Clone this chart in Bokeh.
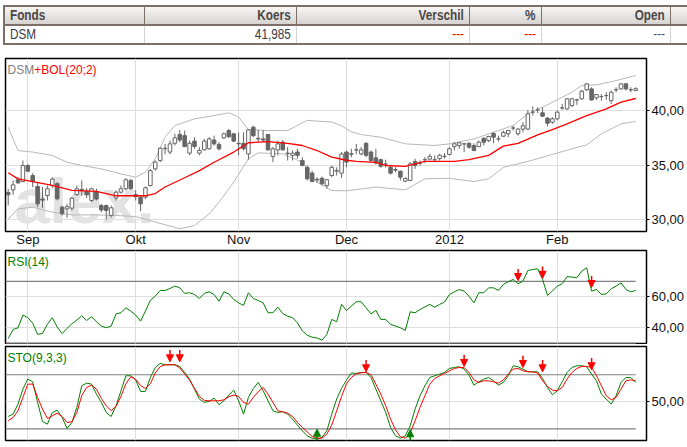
from bokeh.plotting import figure
from bokeh.models import ColumnDataSource, FixedTicker, Range1d, Label, Arrow, NormalHead, Div
from bokeh.layouts import column
from bokeh.embed import file_html
from bokeh.resources import INLINE

# ---------------- data ----------------
table_headers = ["Fonds", "Koers", "Verschil", "%", "Open", ""]
table_row = ["DSM", "41,985", "---", "---", "---", ""]

month_ticks = [4, 26, 47, 69, 90, 112]
month_labels = ["Sep", "Okt", "Nov", "Dec", "2012", "Feb"]

price_ticks = [30, 35, 40]
price_labels = ["30,00", "35,00", "40,00"]
rsi_ticks = [40, 60]
rsi_labels = ["40,00", "60,00"]
rsi_levels = [30, 70]
sto_ticks = [50]
sto_labels = ["50,00"]
sto_levels = [20, 80]

opens = [32.5, 32.74, 33.66, 33.5, 34.97, 34.05, 33.05, 31.9, 32.23, 33.14,
         33.3, 31.16, 31.0, 31.07, 32.3, 32.78, 32.6, 31.77, 32.6, 31.3,
         31.3, 30.4, 32.0, 32.53, 32.84, 33.6, 32.3, 32.07, 32.07, 33.14,
         34.66, 35.43, 36.5, 36.2, 37.0, 37.8, 37.7, 36.1, 37.2, 36.1,
         36.4, 36.5, 37.3, 36.9, 37.5, 38.17, 37.87, 37.0, 37.0, 36.03,
         38.47, 37.45, 37.4, 37.8, 35.8, 36.4, 37.1, 36.1, 35.9, 36.2,
         35.43, 34.8, 34.27, 33.7, 33.8, 33.14, 34.05, 34.45, 34.27, 36.2,
         36.05, 36.4, 36.03, 37.0, 36.2, 35.67, 35.5, 35.1, 34.8, 34.6,
         34.45, 33.54, 33.6, 35.34, 35.2, 35.5, 35.55, 35.5, 35.6, 35.8,
         35.98, 36.7, 36.8, 36.95, 37.0, 36.8, 36.7, 37.45, 37.26, 37.9,
         37.4, 37.65, 37.87, 38.4, 37.87, 38.3, 38.3, 39.85, 40.06, 39.79,
         39.3, 38.93, 39.24, 40.24, 40.15, 40.46, 40.97, 41.07, 41.9, 41.98,
         41.16, 41.28, 41.37, 40.9, 41.9, 41.98, 42.44, 41.9, 41.83]
highs = [32.84, 33.6, 33.9, 35.43, 35.1, 34.27, 33.45, 33.0, 33.14, 33.9,
         33.45, 31.3, 31.46, 32.07, 33.14, 33.6, 32.9, 32.93, 32.84, 31.46,
         31.4, 31.3, 32.7, 33.14, 33.8, 33.75, 32.7, 32.23, 33.05, 34.66,
         35.43, 36.65, 36.95, 37.25, 37.87, 38.23, 38.17, 37.25, 37.56, 36.65,
         37.4, 37.56, 37.7, 37.1, 38.0, 38.3, 37.9, 38.0, 38.0, 38.3,
         38.6, 38.23, 38.2, 37.87, 36.65, 37.25, 37.3, 36.65, 36.34, 36.5,
         35.73, 34.97, 34.5, 33.9, 33.96, 33.75, 34.97, 34.8, 36.2, 36.34,
         36.5, 36.95, 36.65, 37.1, 36.34, 36.5, 35.6, 35.5, 34.97, 34.8,
         34.5, 33.9, 35.28, 35.58, 35.43, 35.73, 36.03, 35.9, 36.03, 36.1,
         36.65, 37.1, 37.1, 37.0, 37.1, 37.0, 37.25, 37.56, 37.7, 38.0,
         37.7, 38.17, 38.23, 38.6, 38.4, 38.93, 40.06, 40.37, 40.3, 40.3,
         39.4, 39.4, 40.0, 40.6, 41.16, 41.16, 41.07, 41.9, 42.5, 42.13,
         41.5, 41.5, 41.67, 41.83, 42.13, 42.5, 42.5, 42.13, 42.13]
lows = [31.31, 32.29, 33.3, 33.45, 34.36, 32.99, 31.16, 31.1, 31.77, 32.9,
        31.77, 30.4, 30.2, 30.85, 32.2, 32.2, 32.0, 31.6, 31.77, 30.7,
        30.0, 30.2, 31.77, 32.4, 32.7, 32.74, 31.77, 30.8, 31.92, 33.05,
        34.5, 35.28, 36.0, 36.0, 36.8, 37.1, 36.65, 35.9, 36.5, 35.9,
        36.34, 36.4, 36.8, 36.34, 37.4, 37.5, 37.1, 35.9, 36.34, 35.5,
        37.56, 37.1, 37.1, 36.34, 35.28, 35.9, 36.34, 35.43, 35.43, 35.6,
        34.9, 33.6, 33.45, 33.36, 33.14, 32.84, 33.9, 34.05, 33.84, 34.8,
        35.73, 36.0, 35.9, 35.73, 35.28, 35.06, 34.76, 34.8, 34.15, 34.36,
        33.6, 33.45, 33.54, 34.66, 34.97, 35.2, 35.43, 35.28, 35.43, 35.6,
        35.9, 36.34, 36.5, 36.2, 36.5, 36.28, 36.65, 36.8, 37.1, 37.0,
        37.16, 37.56, 37.56, 38.17, 37.7, 38.0, 38.2, 39.54, 39.76, 39.4,
        38.54, 38.78, 39.1, 40.06, 40.06, 40.3, 40.52, 40.97, 41.77, 40.9,
        40.97, 40.9, 40.97, 40.6, 41.67, 41.9, 41.83, 41.67, 41.77]
closes = [32.29, 33.2, 33.38, 34.97, 34.45, 33.5, 31.46, 31.8, 32.84, 33.72,
          31.92, 30.55, 31.2, 31.98, 32.84, 32.7, 32.3, 32.84, 31.9, 30.9,
          30.85, 31.1, 32.53, 32.84, 33.66, 32.84, 32.1, 31.46, 32.93, 34.5,
          35.28, 36.55, 36.55, 36.95, 37.5, 37.3, 36.7, 37.0, 36.7, 36.35,
          37.2, 37.4, 36.95, 36.5, 37.87, 37.6, 37.2, 36.95, 36.5, 38.23,
          37.7, 37.4, 37.3, 36.4, 36.5, 36.95, 36.4, 36.05, 36.1, 35.9,
          34.97, 33.75, 33.5, 33.65, 33.3, 33.66, 34.8, 34.5, 36.03, 35.28,
          36.0, 36.4, 36.4, 35.9, 35.43, 35.2, 34.9, 35.1, 34.27, 34.55,
          33.9, 33.78, 35.12, 34.97, 35.2, 35.5, 35.8, 35.5, 35.9, 35.8,
          36.5, 36.95, 37.05, 36.95, 36.65, 36.34, 37.1, 37.1, 37.62, 37.56,
          37.4, 38.0, 38.17, 38.4, 38.3, 38.6, 39.7, 39.85, 40.06, 39.48,
          38.84, 39.24, 39.85, 40.24, 41.07, 41.07, 40.97, 41.77, 42.44, 40.97,
          41.46, 41.28, 41.37, 41.67, 41.9, 42.44, 41.98, 41.9, 42.0]

bol_mid_x = [0, 2, 5, 9, 13, 18, 22, 28, 30, 32, 36, 39, 42, 46, 49, 53, 57, 60, 63,
             66, 69, 71, 75, 77, 81, 85, 91, 94, 98, 101, 104, 108, 111, 114, 118,
             122, 125, 128]
bol_mid_y = [34.3, 33.75, 33.5, 33.15, 32.7, 32.6, 32.2, 32.2, 32.4, 33.0, 33.85,
             34.5, 35.27, 36.2, 37.05, 37.16, 37.0, 36.8, 36.34, 35.73, 35.45, 35.34,
             35.25, 34.97, 34.88, 35.34, 35.34, 35.5, 35.9, 36.74, 37.0, 37.77, 38.25,
             38.78, 39.54, 40.15, 40.76, 41.1]
bol_up_x = [0, 1, 2, 5, 9, 12, 15, 19, 23, 26, 28, 30, 32, 34, 38, 42, 45, 47, 49,
            53, 57, 61, 64, 66, 68, 70, 72, 76, 81, 87, 90, 95, 100, 103, 106, 109,
            111, 115, 117, 120, 124, 128]
bol_up_y = [38.47, 37.4, 36.34, 36.2, 35.88, 35.27, 34.97, 34.66, 34.2, 33.9, 34.36,
            35.58, 37.56, 38.63, 39.24, 39.54, 39.79, 39.4, 38.26, 38.17, 38.17, 39.1,
            39.0, 38.95, 38.6, 38.05, 37.8, 37.56, 36.95, 36.8, 36.95, 37.4, 38.17,
            38.63, 39.7, 40.3, 40.76, 41.68, 42.29, 42.35, 42.74, 43.2]
bol_lo_x = [0, 2, 5, 9, 13, 18, 22, 26, 30, 35, 38, 41, 43, 46, 49, 51, 56, 60, 63,
            66, 69, 75, 81, 85, 90, 95, 98, 101, 106, 111, 115, 118, 121, 125, 128]
bol_lo_y = [30.09, 31.0, 31.16, 30.7, 30.45, 30.45, 30.4, 30.3, 29.79, 29.18, 29.48,
            30.55, 31.6, 33.45, 35.58, 36.13, 36.03, 35.27, 33.45, 32.68, 32.65, 33.0,
            32.74, 33.75, 33.8, 33.5, 33.75, 34.8, 35.34, 35.98, 36.5, 36.86, 37.87,
            38.78, 39.0]

rsi = [33.0, 38.9, 40.0, 48.2, 46.6, 43.0, 35.7, 36.4, 42.3, 46.5,
       40.4, 36.2, 39.6, 42.6, 45.0, 47.7, 44.7, 47.1, 43.9, 41.1,
       40.0, 41.1, 49.0, 49.7, 52.9, 50.8, 48.2, 44.3, 50.8, 57.8,
       60.4, 64.1, 64.1, 65.4, 66.9, 65.8, 62.2, 62.6, 61.5, 58.9,
       62.2, 63.2, 61.5, 57.2, 63.2, 61.9, 58.3, 56.1, 54.4, 62.6,
       58.9, 57.6, 56.1, 49.7, 49.7, 53.3, 49.2, 47.5, 46.5, 43.2,
       38.0, 35.2, 33.9, 33.4, 32.0, 35.7, 45.4, 43.9, 55.1, 51.2,
       54.0, 56.8, 56.8, 52.9, 49.0, 51.2, 45.4, 45.4, 42.2, 41.1,
       40.0, 38.3, 50.3, 49.7, 51.8, 53.5, 55.1, 53.3, 55.1, 56.6,
       61.5, 63.2, 64.7, 63.7, 60.4, 56.1, 62.6, 62.6, 65.8, 65.8,
       64.1, 68.0, 69.7, 71.2, 68.4, 70.1, 77.0, 77.6, 78.1, 71.2,
       60.9, 63.7, 66.9, 68.4, 73.1, 72.7, 72.3, 76.6, 78.7, 63.7,
       64.7, 61.5, 61.9, 65.2, 66.9, 69.0, 64.7, 63.2, 64.1]
rsi_sig_x = [104, 109, 119]
rsi_sig_y = [70.5, 72.0, 66.0]

sto_k = [33.7, 36.3, 47.4, 64.1, 75.2, 72.2, 49.3, 28.1, 25.2, 38.1,
         40.7, 32.6, 20.4, 27.0, 43.7, 67.8, 70.7, 69.6, 58.5, 49.3,
         38.1, 33.7, 45.6, 62.2, 78.9, 78.9, 74.4, 61.5, 61.5, 77.0,
         88.1, 92.6, 91.1, 91.1, 91.1, 89.3, 82.6, 75.2, 64.1, 53.0,
         49.3, 50.4, 54.1, 46.7, 51.1, 57.4, 63.0, 51.1, 36.3, 54.8,
         64.8, 71.5, 62.2, 51.1, 40.0, 38.1, 38.9, 36.3, 30.7, 24.1,
         17.8, 12.2, 9.6, 8.5, 10.4, 17.8, 36.3, 53.0, 65.0, 74.0,
         82.0, 81.5, 82.6, 82.6, 77.0, 64.1, 51.1, 38.1, 21.5, 12.2,
         9.6, 12.2, 23.3, 41.9, 56.7, 67.8, 77.0, 78.9, 80.7, 82.6,
         87.0, 88.1, 88.9, 86.3, 79.6, 68.5, 72.2, 75.2, 77.0, 73.3,
         68.5, 71.5, 78.9, 90.0, 88.9, 86.3, 83.3, 83.3, 83.3, 75.9,
         65.9, 57.8, 62.2, 72.2, 82.6, 88.1, 90.0, 90.0, 88.9, 80.7,
         73.3, 58.5, 53.0, 47.4, 56.7, 71.5, 77.0, 77.0, 71.5]
sto_d = [28.9, 32.6, 40.0, 54.8, 69.6, 69.6, 54.8, 41.9, 31.5, 34.4,
         37.4, 33.7, 27.0, 27.8, 38.1, 56.7, 65.9, 68.5, 64.1, 53.7,
         45.6, 40.0, 45.0, 56.0, 70.0, 77.8, 75.0, 68.0, 64.8, 70.0,
         82.0, 89.0, 91.1, 91.1, 91.1, 87.5, 81.0, 74.0, 65.0, 56.0,
         51.5, 51.1, 51.1, 51.1, 52.2, 55.6, 57.4, 55.9, 49.3, 47.4,
         54.8, 61.1, 65.9, 58.5, 49.3, 40.0, 38.9, 37.4, 33.7, 27.0,
         21.5, 16.5, 11.5, 9.6, 9.6, 14.1, 24.0, 40.0, 56.0, 70.0,
         77.0, 81.0, 82.2, 82.6, 80.0, 69.6, 58.5, 45.6, 30.7, 18.9,
         11.1, 9.6, 15.9, 28.9, 43.7, 56.7, 69.6, 75.9, 78.9, 81.5,
         84.4, 87.0, 88.1, 88.1, 82.6, 74.4, 71.5, 73.3, 73.3, 72.2,
         70.7, 74.4, 80.7, 86.3, 87.0, 84.4, 83.3, 83.3, 81.9, 73.3,
         67.0, 63.0, 62.2, 65.9, 75.2, 82.6, 87.0, 89.3, 89.3, 88.1,
         78.9, 67.8, 56.7, 52.2, 54.8, 64.1, 73.3, 74.4, 73.3]
sto_sell_x = [33, 35, 73, 93, 105, 109, 119]
sto_sell_y = [94.4, 94.4, 83.3, 89.3, 88.1, 83.3, 85.6]
sto_buy_x = [63, 82]
sto_buy_y = [19.6, 18.9]

# ---------------- styles ----------------
FONT = "Liberation Sans"
GRID = "#dedede"
CANDLE = "#666666"
GREEN = "#008000"
RED = "#ff0000"
X_RANGE = Range1d(-0.55, 130.2)
FRAME_W = 641

idx = list(range(len(closes)))


def base_fig(frame_h, y_start, y_end, top, bottom):
    p = figure(frame_width=FRAME_W, frame_height=frame_h, x_range=X_RANGE,
               y_range=Range1d(y_start, y_end),
               y_axis_location="right", toolbar_location=None, output_backend="svg",
               min_border_left=5, min_border_right=41, min_border_top=top,
               min_border_bottom=bottom, background_fill_color="white",
               border_fill_color="white")
    p.outline_line_color = "black"
    p.outline_line_width = 1.5
    p.xgrid.ticker = FixedTicker(ticks=month_ticks)
    p.xgrid.grid_line_color = GRID
    p.ygrid.grid_line_color = GRID
    for ax in p.yaxis:
        ax.axis_line_color = None
        ax.major_tick_in = 0
        ax.major_tick_out = 3
        ax.minor_tick_line_color = None
        ax.major_label_text_font = FONT
        ax.major_label_text_font_size = "13px"
        ax.major_label_text_color = "#111111"
        ax.major_label_standoff = 2
    p.margin = 0
    return p


def add_title(p, parts):
    off = 2
    for txt, col, w in parts:
        p.add_layout(Label(x=p.x_range.start, y=p.y_range.end, x_offset=off, y_offset=-4,
                           text=txt, text_color=col, text_font=FONT,
                           text_font_size="12px", text_baseline="top"))
        off += w


# ---------------- table ----------------
col_w = [140, 152, 173, 72, 129, 60]
brd = "#7d6f67"


def squeeze(t, origin):
    return (f'<span style="display:inline-block;transform:scaleX(0.84);'
            f'transform-origin:{origin};white-space:nowrap;">{t}</span>')


cells_h = ""
for i, (h, w) in enumerate(zip(table_headers, col_w)):
    align = "left" if i == 0 else "right"
    cells_h += (f'<th style="width:{w}px;text-align:{align};padding:0 5px;height:18px;'
                f'background:linear-gradient(#f7f6f5,#d6d3d0);color:#4b4543;font-weight:bold;'
                f'border-right:1px solid {brd};border-bottom:2px solid {brd};">'
                f'{squeeze(h, align)}</th>')
row_colors = ["#3b3848", "#3b3848", RED, RED, "#555555", "#555555"]
cells_d = ""
for i, (t, c) in enumerate(zip(table_row, row_colors)):
    align = "left" if i == 0 else "right"
    cells_d += (f'<td style="text-align:{align};padding:0 5px;height:17px;color:{c};'
                f'border-right:1px solid #d4d4d4;">{squeeze(t, align)}</td>')
cg = "".join(f'<col style="width:{w}px">' for w in col_w)
html = (f'<table style="border-collapse:collapse;table-layout:fixed;width:{sum(col_w)}px;'
        f"font-family:'Liberation Sans',Arial,sans-serif;"
        f'font-size:14px;border-top:2px solid {brd};border-bottom:2px solid {brd};'
        f'border-left:2px solid {brd};margin:0;line-height:17px;">'
        f'<colgroup>{cg}</colgroup><tr>{cells_h}</tr><tr>{cells_d}</tr></table>')
div = Div(text=html, width=684, height=42, margin=(5, 0, 0, 3), styles={"overflow": "hidden"})

# ---------------- main price chart ----------------
p1 = base_fig(173, 28.93, 44.76, 11, 17)
p1.ygrid.ticker = FixedTicker(ticks=price_ticks)
p1.yaxis.ticker = FixedTicker(ticks=price_ticks)
p1.yaxis.major_label_overrides = dict(zip(price_ticks, price_labels))
p1.xaxis.ticker = FixedTicker(ticks=month_ticks)
p1.xaxis.major_label_overrides = dict(zip(month_ticks, month_labels))
p1.xaxis.axis_line_color = None
p1.xaxis.major_tick_in = 0
p1.xaxis.major_tick_out = 0
p1.xaxis.minor_tick_line_color = None
p1.xaxis.major_label_text_font = FONT
p1.xaxis.major_label_text_font_size = "13px"
p1.xaxis.major_label_text_color = "#111111"
p1.xaxis.major_label_standoff = 0

p1.add_layout(Label(x=p1.x_range.start, y=p1.y_range.start, x_offset=9, y_offset=-4,
                    text="alex.", text_color="#e2e2e2", text_font=FONT,
                    text_font_style="bold", text_font_size="63px",
                    text_baseline="bottom", level="underlay"))

up = [c >= o for o, c in zip(opens, closes)]
csrc = ColumnDataSource(dict(
    x=idx, high=highs, low=lows,
    top=[max(o, c) for o, c in zip(opens, closes)],
    bottom=[min(o, c) for o, c in zip(opens, closes)],
    fill=["white" if u else CANDLE for u in up]))

p1.line(bol_up_x, bol_up_y, line_color="#b8b8b8", line_width=1)
p1.line(bol_lo_x, bol_lo_y, line_color="#b8b8b8", line_width=1)
p1.segment(x0="x", x1="x", y0="low", y1="high", source=csrc, line_color=CANDLE, line_width=1)
p1.vbar(x="x", width=0.72, top="top", bottom="bottom", source=csrc,
        fill_color="fill", line_color=CANDLE, line_width=1)
p1.line(bol_mid_x, bol_mid_y, line_color=RED, line_width=1.3)
add_title(p1, [("DSM", "#808080", 26.7), ("+BOL(20;2)", RED, 0)])

# ---------------- RSI ----------------
p2 = base_fig(94, 29.2, 89.9, 1, 0)
p2.xaxis.visible = False
p2.ygrid.ticker = FixedTicker(ticks=rsi_ticks)
p2.yaxis.ticker = FixedTicker(ticks=rsi_ticks)
p2.yaxis.major_label_overrides = dict(zip(rsi_ticks, rsi_labels))
p2.segment(x0=[X_RANGE.start] * len(rsi_levels), x1=[idx[-1]] * len(rsi_levels),
           y0=rsi_levels, y1=rsi_levels, line_color="#808080", line_width=1.2)
p2.line(idx, rsi, line_color=GREEN, line_width=1)
rsrc = ColumnDataSource(dict(x=rsi_sig_x, ye=rsi_sig_y, ys=[v + 7.5 for v in rsi_sig_y]))
p2.add_layout(Arrow(x_start="x", y_start="ys", x_end="x", y_end="ye", source=rsrc,
                    line_color=RED, line_width=1.5,
                    end=NormalHead(size=7, fill_color=RED, line_color=RED)))
add_title(p2, [("RSI(14)", GREEN, 0)])

# ---------------- Stochastic ----------------
p3 = base_fig(94, 7.0, 111.4, 2, 2)
p3.xaxis.visible = False
p3.ygrid.ticker = FixedTicker(ticks=sto_ticks)
p3.yaxis.ticker = FixedTicker(ticks=sto_ticks)
p3.yaxis.major_label_overrides = dict(zip(sto_ticks, sto_labels))
p3.segment(x0=[X_RANGE.start] * len(sto_levels), x1=[idx[-1]] * len(sto_levels),
           y0=sto_levels, y1=sto_levels, line_color="#808080", line_width=1.2)
p3.line(idx, sto_k, line_color=GREEN, line_width=1)
p3.line(idx, sto_d, line_color=RED, line_width=1)
ssrc = ColumnDataSource(dict(x=sto_sell_x, ye=sto_sell_y, ys=[v + 13 for v in sto_sell_y]))
p3.add_layout(Arrow(x_start="x", y_start="ys", x_end="x", y_end="ye", source=ssrc,
                    line_color=RED, line_width=1.5,
                    end=NormalHead(size=7, fill_color=RED, line_color=RED)))
bsrc = ColumnDataSource(dict(x=sto_buy_x, ye=sto_buy_y, ys=[v - 13 for v in sto_buy_y]))
p3.add_layout(Arrow(x_start="x", y_start="ys", x_end="x", y_end="ye", source=bsrc,
                    line_color=GREEN, line_width=1.5,
                    end=NormalHead(size=7, fill_color=GREEN, line_color=GREEN)))
add_title(p3, [("STO(9,3,3)", GREEN, 0)])

layout = column(div, p1, p2, p3, spacing=0, margin=0)
open("out.html", "w").write(file_html(layout, INLINE))
